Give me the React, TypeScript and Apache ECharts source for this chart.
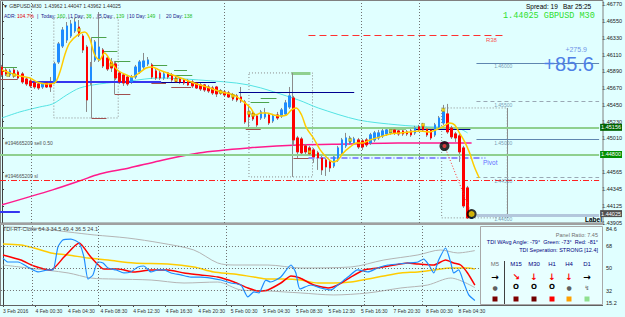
import React, { useEffect, useRef } from "react";
import * as echarts from "echarts";

// ---------- data ----------
const TIME_LABELS = ["3 Feb 2016", "4 Feb 00:30", "4 Feb 04:30", "4 Feb 08:30", "4 Feb 12:30", "4 Feb 16:30", "4 Feb 20:30", "5 Feb 00:30", "5 Feb 04:30", "5 Feb 08:30", "5 Feb 12:30", "5 Feb 16:30", "7 Feb 20:30", "8 Feb 00:30", "8 Feb 04:30"];
const SLOT_COUNT = 148;
const BARS_PER_LABEL = 8;

const OPEN = [1.45947,1.45908,1.45843,1.45908,1.45882,1.45856,1.45790,1.45764,1.45738,1.45725,1.45685,1.45738,1.45725,1.45751,1.46013,1.46222,1.46301,1.46353,1.46419,1.46471,1.46353,1.46209,1.45777,1.46039,1.46039,1.46170,1.46065,1.46013,1.45987,1.45869,1.45843,1.45816,1.45751,1.45816,1.45882,1.45947,1.45987,1.45974,1.45895,1.45869,1.45803,1.45869,1.45843,1.45803,1.45790,1.45777,1.45764,1.45751,1.45738,1.45712,1.45712,1.45685,1.45672,1.45685,1.45633,1.45620,1.45607,1.45581,1.45568,1.45554,1.45489,1.45358,1.45345,1.45305,1.45279,1.45292,1.45318,1.45240,1.45318,1.45305,1.45332,1.45423,1.45541,1.45017,1.45004,1.44913,1.44886,1.44860,1.44821,1.44755,1.44729,1.44703,1.44650,1.44729,1.44821,1.44913,1.44952,1.44952,1.44991,1.44978,1.44991,1.44952,1.44991,1.45017,1.45044,1.45070,1.45083,1.45122,1.45109,1.45109,1.45096,1.45109,1.45083,1.45162,1.45188,1.45135,1.45122,1.45057,1.45148,1.45214,1.45332,1.45148,1.45070,1.45044,1.44886,1.44362,1.43962];
const CLOSE = [1.45843,1.45856,1.45895,1.45829,1.45803,1.45751,1.45725,1.45699,1.45685,1.45672,1.45738,1.45685,1.45685,1.45987,1.46249,1.46432,1.46484,1.46511,1.46537,1.46367,1.46170,1.45515,1.45947,1.46275,1.46209,1.45960,1.45921,1.45934,1.45803,1.45751,1.45738,1.45725,1.45816,1.45947,1.46013,1.46026,1.46039,1.45816,1.45803,1.45803,1.45856,1.45816,1.45777,1.45751,1.45751,1.45738,1.45712,1.45699,1.45672,1.45659,1.45646,1.45633,1.45607,1.45594,1.45607,1.45581,1.45554,1.45528,1.45515,1.45502,1.45227,1.45292,1.45266,1.45188,1.45358,1.45345,1.45214,1.45305,1.45279,1.45384,1.45476,1.45568,1.44991,1.44834,1.44821,1.44834,1.44808,1.44768,1.44755,1.44598,1.44637,1.44624,1.44768,1.44886,1.44991,1.45017,1.45017,1.45004,1.44899,1.44899,1.44926,1.45057,1.45083,1.45083,1.45109,1.45122,1.45122,1.45083,1.45070,1.45070,1.45070,1.45057,1.45148,1.45122,1.45122,1.45057,1.45017,1.45188,1.45279,1.45358,1.45096,1.45031,1.45017,1.44834,1.44126,1.43969,1.44025];
const LOW = [1.45816,1.45829,1.45816,1.45803,1.45777,1.45725,1.45699,1.45672,1.45659,1.45646,1.45659,1.45672,1.45620,1.45725,1.45987,1.46196,1.46262,1.46327,1.46393,1.46340,1.46131,1.45358,1.45712,1.46013,1.46013,1.45934,1.45895,1.45882,1.45777,1.45725,1.45699,1.45699,1.45725,1.45790,1.45856,1.45921,1.45960,1.45790,1.45777,1.45777,1.45777,1.45790,1.45751,1.45738,1.45725,1.45712,1.45699,1.45672,1.45659,1.45633,1.45620,1.45607,1.45581,1.45554,1.45581,1.45554,1.45541,1.45502,1.45489,1.45476,1.45201,1.45135,1.45240,1.45162,1.45253,1.45266,1.45188,1.45214,1.45253,1.45279,1.45305,1.45397,1.44926,1.44755,1.44782,1.44795,1.44782,1.44690,1.44598,1.44532,1.44519,1.44572,1.44624,1.44703,1.44795,1.44886,1.44926,1.44926,1.44873,1.44860,1.44899,1.44926,1.44965,1.44991,1.45017,1.45044,1.45057,1.45057,1.45044,1.45044,1.45044,1.45031,1.45057,1.45096,1.45096,1.45031,1.44991,1.45031,1.45122,1.45188,1.45070,1.45004,1.44965,1.44703,1.44100,1.43956,1.43962];
const HIGH = [1.45974,1.45934,1.45921,1.45934,1.45908,1.45882,1.45816,1.45790,1.45751,1.45738,1.45764,1.45751,1.45816,1.46013,1.46275,1.46471,1.46537,1.46563,1.46589,1.46563,1.46380,1.46236,1.46013,1.46301,1.46668,1.46196,1.46091,1.46065,1.46026,1.45895,1.45869,1.45843,1.45843,1.45974,1.46039,1.46131,1.46078,1.46000,1.45921,1.45895,1.45882,1.45882,1.45869,1.45829,1.45816,1.45803,1.45790,1.45777,1.45751,1.45738,1.45725,1.45712,1.45699,1.45699,1.45659,1.45646,1.45633,1.45607,1.45594,1.45685,1.45515,1.45450,1.45371,1.45332,1.45384,1.45410,1.45345,1.45332,1.45358,1.45410,1.45515,1.45685,1.45568,1.45044,1.45031,1.44939,1.44913,1.44886,1.44847,1.44782,1.44755,1.44729,1.44795,1.44913,1.45017,1.45083,1.45044,1.45031,1.45017,1.45004,1.45017,1.45083,1.45109,1.45122,1.45135,1.45148,1.45148,1.45148,1.45135,1.45122,1.45122,1.45135,1.45175,1.45188,1.45214,1.45162,1.45148,1.45214,1.45305,1.45450,1.45463,1.45175,1.45096,1.45070,1.44913,1.44388,1.44047];

// small yellow signal dots on candles: [bar, price]
const SIGNAL_DOTS = [[1.5,1.45843],[3,1.45843],[19,1.46432],[27,1.45974],[43,1.45777],[54,1.4562],[57,1.45568],[61,1.45345],[62,1.45318],[76,1.44834],[86,1.44991],[96,1.45109],[104,1.45188],[109,1.45384]];

// moving averages on main chart: [bar position, price]
const MA_FAST = [[0,1.45908],[2,1.45869],[4.4,1.45829],[6.9,1.45803],[8.6,1.45751],[11.1,1.45725],[13,1.45738],[14.3,1.45882],[15.5,1.46104],[16.7,1.46262],[18.7,1.46367],[20.4,1.46406],[21.6,1.46327],[22.9,1.46104],[24.1,1.46039],[25.3,1.46131],[27,1.46013],[28.5,1.45908],[30.7,1.45843],[32.2,1.45816],[33.9,1.45869],[35.6,1.45934],[37.1,1.45947],[38.8,1.45908],[40.8,1.45869],[44.2,1.45803],[47.4,1.45738],[50.6,1.45685],[54.1,1.4562],[57.2,1.45581],[59.7,1.45489],[61.4,1.4541],[62.7,1.45318],[63.9,1.45345],[65.4,1.45345],[67.1,1.45318],[68.8,1.45305],[70.3,1.45318],[71.5,1.45384],[72.7,1.4541],[74,1.45318],[75.2,1.45148],[76.9,1.45017],[78.6,1.4486],[80.1,1.44768],[81.8,1.44703],[83,1.44729],[84.3,1.44821],[86,1.44899],[87.5,1.44952],[89.2,1.44952],[90.9,1.44991],[93.4,1.45031],[95.8,1.4507],[98.3,1.45083],[100.7,1.45096],[103.2,1.45109],[105.7,1.45096],[107.1,1.45122],[108.8,1.45162],[110.6,1.45214],[111.8,1.45188],[113,1.45083],[114.3,1.44965],[115.5,1.44821],[116.7,1.44637],[117.9,1.44492]];
const MA_SLOW = [[0,1.4414],[12.5,1.44336],[19.2,1.44454],[24.1,1.44545],[31.4,1.44624],[38.8,1.44716],[48.6,1.44821],[60.9,1.44886],[73.2,1.44926],[85.5,1.44939],[97.8,1.44952],[116,1.44952]];
const MA_MID = [[0,1.45279],[4.4,1.45358],[9.3,1.45423],[12.5,1.45463],[16,1.45581],[19.2,1.45672],[24.1,1.45725],[31.4,1.45764],[38.8,1.45803],[48.6,1.45777],[60.9,1.45712],[73.2,1.45515],[78.1,1.4541],[88,1.45253],[97.8,1.45188],[105.2,1.45162],[112.5,1.45148],[115,1.45083]];

// TDI sub-window: [bar position, value]
const TDI_PRICE = [[0,58.3],[1.2,55.1],[3.7,55.1],[6.1,51.1],[8.6,47.1],[11.1,48.7],[12.3,48.7],[13.5,67.2],[14.7,72.8],[16.7,73.6],[18.7,70.4],[19.9,59.1],[20.9,41.4],[22.1,44.7],[23.3,55.1],[24.6,54.3],[25.8,50.3],[27.8,48.7],[29.7,46.3],[31.4,47.1],[33.2,51.1],[34.6,51.9],[36.4,47.1],[38.1,48.7],[39.6,48.7],[41.3,46.3],[43.7,44.7],[46.2,43],[48.6,43],[51.1,42.2],[53.6,40.6],[56,38.2],[58.5,36.6],[60.2,27],[61.7,31],[62.9,30.2],[64.6,40.6],[65.8,39],[68.3,43],[70.8,52.7],[72,46.3],[73,33.4],[75.7,36.6],[78.1,34.2],[80.6,32.6],[82.3,36.6],[84.8,43],[87.2,48.7],[89.7,47.1],[92.1,50.3],[94.6,52.7],[97.1,53.5],[99.5,54.3],[102,55.1],[103.4,57.5],[104.7,52.7],[105.9,46.3],[107.1,56.7],[108.8,66.4],[110.1,54.3],[110.8,46.3],[112,48.7],[113.3,38.2],[114.5,28.6],[116,24.1]];
const TDI_SIGNAL = [[0,60.8],[4.4,56.7],[7.6,51.9],[11.8,48.7],[15,59.1],[18.7,70.4],[21.6,59.1],[24.8,49.5],[28.3,49.5],[32.2,47.1],[36.4,48.7],[40.5,48.7],[44.5,46.3],[48.6,44.7],[52.8,43],[56.8,39],[60.2,34.2],[62.7,31.8],[65.1,32.6],[68.3,38.2],[70.8,43.9],[73,42.2],[76.4,36.6],[79.9,34.2],[82.3,36.6],[85.5,43],[88.7,48.7],[92.1,50.3],[96.1,52.7],[99.5,54.3],[102,53.5],[105.9,52.7],[108.8,56.7],[110.8,54.3],[112.5,52.7],[114.2,46.3],[116,36.5]];
const TDI_BASE = [[0,69.6],[4.4,68.8],[7.6,66.4],[11.8,62.4],[16,60.8],[20.9,58.3],[25.8,56.7],[32.2,54.3],[40.5,53.5],[46.9,51.1],[51.8,47.1],[56.8,45.5],[61.7,43],[65.1,41.4],[69,41.4],[73.2,40.6],[77.4,38.2],[81.3,38.2],[85.5,39],[89.7,41.4],[93.6,43.9],[97.8,46.3],[102,47.1],[105.9,48.7],[110.1,50.3],[114.2,50.3],[116,49.4]];
const TDI_UPPER = [[0,83.3],[7.6,82.5],[16,79.3],[22.4,76.9],[30.7,74.4],[38.8,70.4],[46.9,64.8],[52.8,54.3],[56.8,52.7],[65.1,52.7],[73.2,50.3],[85.5,51.1],[93.6,56.7],[102,60.8],[107.6,64.8],[111.8,62.4],[116,64.3]];
const TDI_LOWER = [[0,52.7],[6.1,50.3],[16,46.3],[21.6,42.2],[27.3,41.4],[36.4,40.6],[44.5,38.2],[52.8,39],[58.5,32.6],[65.1,31.8],[73.2,30.2],[81.3,28.6],[89.7,30.2],[97.8,34.2],[104.4,36.6],[110.1,42.2],[116,34.5]];
const TDI_LEVELS = [68, 50, 32];
const TDI_TICK_LABELS = ["84.6", "68", "50", "32", "15.2"];
const TDI_HEADER_VALUES = [64.3, 34.5, 49.4, 36.5, 24.1];

const PRICE_TICKS = [1.4677, 1.4655, 1.4633, 1.4611, 1.4589, 1.4567, 1.4545, 1.4523, 1.4501, 1.44565, 1.44345, 1.44125, 1.43905];
const PRICE_BOXES = [1.45156, 1.448, 1.44025];
const ROUND_LEVELS = [1.46, 1.455, 1.45, 1.445, 1.44];
const SL_PRICE = 1.44466;
const R38_PRICE = 1.4636;
const PIVOT_PRICE = 1.44755;
const TRADE_POINTS = [[109.3, 1.4491], [116, 1.4402]];
const DAY_SEPARATORS = [7.1, 55, 88.7, 103];
const SUB_SEPARATORS = [7.1, 23.3, 55, 88.7, 103];
const BOXES = [[12.8, 1.46589, 28.7, 1.45279], [61, 1.45869, 76.7, 1.44506], [108.6, 1.4541, 124.8, 1.43969]];
const GREEN_SEGMENTS = [[22.1, 25.8, 1.4634], [24.8, 28.5, 1.46157], [27.8, 31.7, 1.46026], [-0.5, 3.7, 1.45947], [37.1, 40.8, 1.45974], [40.8, 47, 1.45843], [42.5, 45.7, 1.45908], [61.4, 66, 1.45489], [63.9, 67.8, 1.45541]];
const LIGHT_GREEN_SEGMENTS = [[71.5, 76.2, 1.45869], [95.8, 99.8, 1.45148]];
const BROWN_SEGMENTS = [[-0.5, 3.7, 1.4579], [22.1, 25.8, 1.45279], [24.8, 28.3, 1.45751], [27.8, 31.7, 1.45594], [36.9, 40.5, 1.45738], [41.8, 46.7, 1.45685], [60.2, 63.9, 1.45135], [72, 76.2, 1.44755]];
const GRAY_VERTICALS = [[22.1, 1.4634, 1.45279], [27.8, 1.46026, 1.45594], [71.7, 1.45869, 1.44506], [124.8, 1.4541, 1.43969]];
const NAVY_SEGMENTS = [[39.3, 52.8, 1.45751], [58.5, 87, 1.4562], [88.7, 101, 1.44808], [102.2, 115.7, 1.45135]];
const BLUE_SEGMENTS = [[6.9, 39.3, 1.45751], [-0.5, 4.4, 1.44046]];

const ADR_PARTS = [["ADR:", "n"], ["104.7%", "r"], ["|", "n"], ["Today:", "n"], ["160", "g"], ["|", "n"], ["1 Day:", "n"], ["38", "g"], ["|", "n"], ["5 Day:", "n"], ["139", "g"], ["|", "n"], ["10 Day:", "n"], ["149", "g"], ["|", "n"], ["20 Day:", "n"], ["138", "g"]];
const TIMEFRAMES = ["M5", "M15", "M30", "H1", "H4", "D1"];
const TF_ARROWS = ["→", "↘", "↓", "↓", "↓", "→"];
const TF_STATE = ["●", "O", "O", "O", "●", "↯"];
const TF_SQUARES = ["#7a0000", "#800000", "#700000", "#ff0000", "#ffa000", "#8fe08f"];

// ---------- styling ----------
const FONT = "'Liberation Sans', 'DejaVu Sans', Arial, sans-serif";
const BG = "#e0ffff";

function txt(x: number, y: number, text: string, fill: string, size: number, align = "left", weight = "normal", family = FONT) {
  return {
    type: "text", x, y, z: 100, silent: true,
    style: { text, fill, font: `${weight} ${size}px ${family}`, textAlign: align, textVerticalAlign: "middle" },
  };
}

export default function App() {
  const ref = useRef<HTMLDivElement>(null);
  useEffect(() => {
    if (!ref.current) return;
    const chart = echarts.init(ref.current, undefined, { renderer: "svg" });

    const categories = Array.from({ length: SLOT_COUNT }, (_, i) =>
      i % BARS_PER_LABEL === 0 && TIME_LABELS[i / BARS_PER_LABEL] ? TIME_LABELS[i / BARS_PER_LABEL] : "");
    const wickData = OPEN.map((o, i) => [o, CLOSE[i], LOW[i], HIGH[i]]);
    const bodyData = OPEN.map((o, i) => [o, CLOSE[i], Math.min(o, CLOSE[i]), Math.max(o, CLOSE[i])]);

    const seg = (a: number, b: number, p: number, color: string, width: number, type: any = "solid") =>
      [{ coord: [a, p], lineStyle: { color, width, type } }, { coord: [b, p] }];
    const vseg = (x: number, p1: number, p2: number, color: string) =>
      [{ coord: [x, p1], lineStyle: { color, width: 1, type: "solid" } }, { coord: [x, p2] }];

    const boxColors = ["#006400", "#009000", "#505050"];
    const roundStyles = [
      { color: "#5f86b0", width: 1, type: "solid" },
      { color: "#9aa8b4", width: 1, type: [4, 3] },
      { color: "#5f86b0", width: 1, type: "solid" },
      { color: "#9aa8b4", width: 1, type: [4, 3] },
      { color: "#b3c7dc", width: 3, type: "solid" },
    ];

    const graphic: any[] = [
      { type: "rect", z: 1, silent: true, shape: { x: 0.5, y: 0.5, width: 602.5, height: 222.5 }, style: { fill: "none", stroke: "#808080", lineWidth: 1 } },
      { type: "rect", z: 1, silent: true, shape: { x: 0, y: 223, width: 603, height: 2 }, style: { fill: "#a0a0a0" } },
      { type: "line", z: 1, silent: true, shape: { x1: 0, y1: 305.5, x2: 603, y2: 305.5 }, style: { stroke: "#606060", lineWidth: 1 } },
      { type: "line", z: 1, silent: true, shape: { x1: 0.5, y1: 225, x2: 0.5, y2: 305 }, style: { stroke: "#808080", lineWidth: 1 } },
      txt(3, 6, "▼ GBPUSD,M30  " + [OPEN[OPEN.length - 1], HIGH[HIGH.length - 1], LOW[LOW.length - 1], CLOSE[CLOSE.length - 1]].map((v) => v.toFixed(5)).join(" "), "#303030", 5),
      txt(526, 6, "Spread: 19", "#000000", 6.5),
      txt(563, 6, "Bar 25:25", "#000000", 6.5),
      txt(503, 16, CLOSE[CLOSE.length - 1].toFixed(5) + " GBPUSD M30", "#2ee02e", 8.5, "left", "normal", "'Liberation Mono', 'DejaVu Sans Mono', monospace"),
      txt(587, 49, "+275.9", "#6f93e8", 7, "right"),
      txt(594, 64, "+85.6", "#4d7fe6", 20, "right"),
      txt(602, 219, "Label", "#000000", 6.5, "right", "bold"),
      txt(5, 143, "#194665209 sell 0.50", "#505050", 5),
      txt(5, 176, "#194665209 sl", "#505050", 5),
      txt(3, 229, "TDI-RT-Clone " + TDI_HEADER_VALUES.map((v) => v.toFixed(1)).join(" "), "#404040", 5.5),
      txt(606, 229, TDI_TICK_LABELS[0], "#202020", 5.5),
      txt(606, 303, TDI_TICK_LABELS[4], "#202020", 5.5),
      { type: "rect", z: 90, silent: true, shape: { x: 480.5, y: 226.5, width: 122, height: 78 }, style: { fill: "#e8ffff", stroke: "#a8a8a8", lineWidth: 1 } },
      txt(598, 235, "Panel Ratio: 7.45", "#707070", 5.5, "right"),
      txt(598, 242, "TDI WAvg Angle: -79°  Green: -73°  Red: -81°", "#000080", 5.5, "right"),
      txt(598, 250, "TDI Seperation: STRONG [12.4]", "#000080", 5.5, "right"),
      { type: "line", z: 100, silent: true, shape: { x1: 504.5, y1: 261, x2: 504.5, y2: 304 }, style: { stroke: "#404040", lineWidth: 1 } },
    ];
    // ADR line
    const adrX = [4, 17, 37, 41, 57, 68, 70, 86, 97, 99, 116, 127, 129, 147, 159, 166, 184];
    const adrColor: any = { n: "#1a1a8c", r: "#e00000", g: "#22c022" };
    ADR_PARTS.forEach(([s, c], i) => graphic.push(txt(adrX[i], 16, s, adrColor[c], 5)));
    // timeframe panel
    const tfX = [495, 516, 534, 552, 569, 587];
    TIMEFRAMES.forEach((tf, i) => {
      graphic.push(txt(tfX[i], 264, tf, i === 0 ? "#707070" : "#000080", 6, "center"));
      const arrowColor = TF_ARROWS[i] === "→" ? "#000000" : "#ff0000";
      graphic.push(txt(tfX[i], 277, TF_ARROWS[i], arrowColor, 9, "center", "bold", "'DejaVu Sans', sans-serif"));
      const st = TF_STATE[i];
      graphic.push(txt(tfX[i], 287, st, st === "O" ? "#000000" : "#606060", st === "O" ? 7 : 6, "center", st === "O" ? "bold" : "normal", "'DejaVu Sans', sans-serif"));
      graphic.push({ type: "rect", z: 100, silent: true, shape: { x: tfX[i] - 2.5, y: 296.5, width: 5, height: 5 }, style: { fill: TF_SQUARES[i] } });
    });

    const option: any = {
      animation: false,
      backgroundColor: BG,
      textStyle: { fontFamily: FONT },
      grid: [
        { left: 0, top: 2, width: 603, height: 221 },
        { left: 0, top: 225, width: 603, height: 80 },
      ],
      xAxis: [
        { type: "category", gridIndex: 0, data: categories, boundaryGap: true, show: false },
        { type: "value", gridIndex: 0, min: -0.5, max: SLOT_COUNT - 0.5, show: false },
        {
          type: "category", gridIndex: 1, data: categories, boundaryGap: true,
          axisLine: { show: false },
          axisTick: { show: true, alignWithLabel: true, length: 2, lineStyle: { color: "#404040" }, interval: (i: number) => categories[i] !== "" },
          axisLabel: { show: true, interval: 0, align: "left", fontSize: 5, color: "#303030", margin: 3, fontFamily: FONT },
          splitLine: { show: false },
        },
        { type: "value", gridIndex: 1, min: -0.5, max: SLOT_COUNT - 0.5, show: false },
      ],
      yAxis: [
        {
          type: "value", gridIndex: 0, position: "right", min: 1.43902, max: 1.46799, scale: true,
          axisLine: { show: true, lineStyle: { color: "#404040" } },
          axisTick: { show: true, length: 2, customValues: PRICE_TICKS, lineStyle: { color: "#404040" } },
          axisLabel: { show: true, customValues: PRICE_TICKS, formatter: (v: number) => v.toFixed(5), fontSize: 5.5, color: "#202020", margin: 3, fontFamily: FONT },
          splitLine: { show: false },
        },
        {
          type: "value", gridIndex: 1, position: "right", min: 20.5, max: 84.9,
          axisLine: { show: true, lineStyle: { color: "#404040" } },
          axisTick: { show: true, length: 2, customValues: TDI_LEVELS, lineStyle: { color: "#404040" } },
          axisLabel: { show: true, customValues: TDI_LEVELS, formatter: (v: number) => String(v), fontSize: 5.5, color: "#202020", margin: 3, fontFamily: FONT },
          splitLine: { show: false },
        },
      ],
      graphic,
      series: [
        // cyan MA with boxes and segments
        {
          type: "line", name: "ma-mid", xAxisIndex: 1, yAxisIndex: 0, data: MA_MID, symbol: "none", smooth: 0.3, z: 3,
          lineStyle: { color: "#54e3e3", width: 1 },
          markArea: {
            silent: true,
            itemStyle: { color: "rgba(0,0,0,0)", borderColor: "#8a8a8a", borderWidth: 1, borderType: [1, 2] },
            data: BOXES.map(([a, p1, b, p2]) => [{ coord: [a, p1] }, { coord: [b, p2] }]),
          },
          markLine: {
            silent: true, symbol: ["none", "none"], label: { show: false }, precision: 5,
            data: [
              ...GREEN_SEGMENTS.map(([a, b, p]) => seg(a, b, p, "#4ca34c", 1)),
              ...LIGHT_GREEN_SEGMENTS.map(([a, b, p]) => seg(a, b, p, "#90d090", 3)),
              ...BROWN_SEGMENTS.map(([a, b, p]) => seg(a, b, p, "#a05050", 1)),
              ...GRAY_VERTICALS.map(([x, p1, p2]) => vseg(x, p1, p2, "#8c8c8c")),
              ...NAVY_SEGMENTS.map(([a, b, p]) => seg(a, b, p, "#000090", 1)),
              ...BLUE_SEGMENTS.map(([a, b, p]) => seg(a, b, p, "#3535f0", 2)),
              seg(75.7, 123.8, R38_PRICE, "#ff3030", 1, [7, 4]),
              seg(75.7, 119.4, PIVOT_PRICE, "#8c8cff", 2, [6, 2, 1, 2]),
              ...ROUND_LEVELS.map((p, i) => [{ coord: [117.2, p], lineStyle: roundStyles[i] }, { coord: [SLOT_COUNT - 0.5, p] }]),
            ],
          },
        },
        // magenta MA with full-width lines
        {
          type: "line", name: "ma-slow", xAxisIndex: 1, yAxisIndex: 0, data: MA_SLOW, symbol: "none", smooth: 0.3, z: 3,
          lineStyle: { color: "#ff1a8c", width: 1.5 },
          markLine: {
            silent: true, symbol: ["none", "none"], label: { show: false }, precision: 5,
            data: [
              ...DAY_SEPARATORS.map((x) => ({ xAxis: x, lineStyle: { color: "#707070", width: 1, type: [1, 2] } })),
              { yAxis: SL_PRICE, lineStyle: { color: "#ff2020", width: 1, type: [6, 2, 1, 2] } },
              ...PRICE_BOXES.map((p, i) => ({
                yAxis: p,
                lineStyle: i < 2 ? { color: "#8fd08f", width: 2, type: "solid" } : { color: "rgba(0,0,0,0)", width: 0 },
                label: { show: true, position: "end", distance: 1, formatter: p.toFixed(5), color: "#ffffff", backgroundColor: boxColors[i], padding: [1, 1, 0, 1], fontSize: 5.5, fontFamily: FONT },
              })),
            ],
          },
        },
        // candles: wicks then bodies
        {
          type: "candlestick", name: "wicks", xAxisIndex: 0, yAxisIndex: 0, data: wickData, barWidth: 2, z: 4,
          itemStyle: { color: "#8a8a8a", color0: "#8a8a8a", borderColor: "#8a8a8a", borderColor0: "#8a8a8a", borderWidth: 1 },
        },
        {
          type: "candlestick", name: "bodies", xAxisIndex: 0, yAxisIndex: 0, data: bodyData, barWidth: 2, z: 5,
          itemStyle: { color: "#1e8cff", color0: "#ff0000", borderColor: "#1e8cff", borderColor0: "#ff0000", borderWidth: 1 },
        },
        {
          type: "scatter", name: "signal-dots", xAxisIndex: 1, yAxisIndex: 0, data: SIGNAL_DOTS, symbol: "rect", symbolSize: 3, z: 6, silent: true,
          itemStyle: { color: "#ffe600", borderColor: "#8a7a00", borderWidth: 0.5 },
        },
        // fast MA
        {
          type: "line", name: "ma-fast", xAxisIndex: 1, yAxisIndex: 0, data: MA_FAST, symbol: "none", smooth: 0.3, z: 6,
          lineStyle: { color: "#ffcc00", width: 1.5 },
        },
        // trade path and markers
        {
          type: "line", name: "trade", xAxisIndex: 1, yAxisIndex: 0, data: TRADE_POINTS, symbol: "none", z: 7,
          lineStyle: { color: "#ff3030", width: 1, type: [1, 2] },
        },
        {
          type: "scatter", name: "trade-outer", xAxisIndex: 1, yAxisIndex: 0, data: TRADE_POINTS, symbolSize: 10, z: 8,
          itemStyle: { color: "#000000" },
        },
        {
          type: "scatter", name: "trade-inner", xAxisIndex: 1, yAxisIndex: 0, z: 9,
          data: TRADE_POINTS.map((p, i) => ({ value: p, symbolSize: i === 0 ? 4 : 6, itemStyle: { color: i === 0 ? "#ff4040" : "#ffd700" } })),
        },
        // text labels anchored to levels
        {
          type: "scatter", name: "level-labels", xAxisIndex: 1, yAxisIndex: 0, symbolSize: 0, z: 10, silent: true,
          data: [
            ...ROUND_LEVELS.map((p) => ({ value: [123.8, p], label: { formatter: p.toFixed(5), color: "#5f7f9f", fontSize: 5, distance: 1 } })),
            { value: [120.9, R38_PRICE], label: { formatter: "R38", color: "#ff2020", fontSize: 6, distance: 2 } },
            { value: [120.6, PIVOT_PRICE], label: { formatter: "Pivot", color: "#3c3cff", fontSize: 6.5, distance: 1 } },
          ],
          label: { show: true, position: "bottom", fontFamily: FONT },
        },
        // TDI
        {
          type: "line", name: "tdi-upper", xAxisIndex: 3, yAxisIndex: 1, data: TDI_UPPER, symbol: "none", smooth: 0.3,
          lineStyle: { color: "#b4b4b4", width: 1 },
          markLine: {
            silent: true, symbol: ["none", "none"], label: { show: false }, precision: 5,
            data: [
              ...TDI_LEVELS.map((v) => ({ yAxis: v, lineStyle: { color: "#707070", width: 1, type: [1, 2] } })),
              ...SUB_SEPARATORS.map((x) => ({ xAxis: x, lineStyle: { color: "#707070", width: 1, type: [1, 2] } })),
            ],
          },
        },
        { type: "line", name: "tdi-lower", xAxisIndex: 3, yAxisIndex: 1, data: TDI_LOWER, symbol: "none", smooth: 0.3, lineStyle: { color: "#b4b4b4", width: 1 } },
        { type: "line", name: "tdi-base", xAxisIndex: 3, yAxisIndex: 1, data: TDI_BASE, symbol: "none", smooth: 0.3, lineStyle: { color: "#ffcc00", width: 1.5 } },
        { type: "line", name: "tdi-signal", xAxisIndex: 3, yAxisIndex: 1, data: TDI_SIGNAL, symbol: "none", smooth: 0.2, lineStyle: { color: "#ff0000", width: 1.5 } },
        { type: "line", name: "tdi-price", xAxisIndex: 3, yAxisIndex: 1, data: TDI_PRICE, symbol: "none", smooth: 0.2, lineStyle: { color: "#1e8cff", width: 1.2 } },
      ],
    };
    chart.setOption(option);
    return () => chart.dispose();
  }, []);

  return <div ref={ref} style={{ position: "fixed", left: 0, top: 0, width: 625, height: 317 }} />;
}
